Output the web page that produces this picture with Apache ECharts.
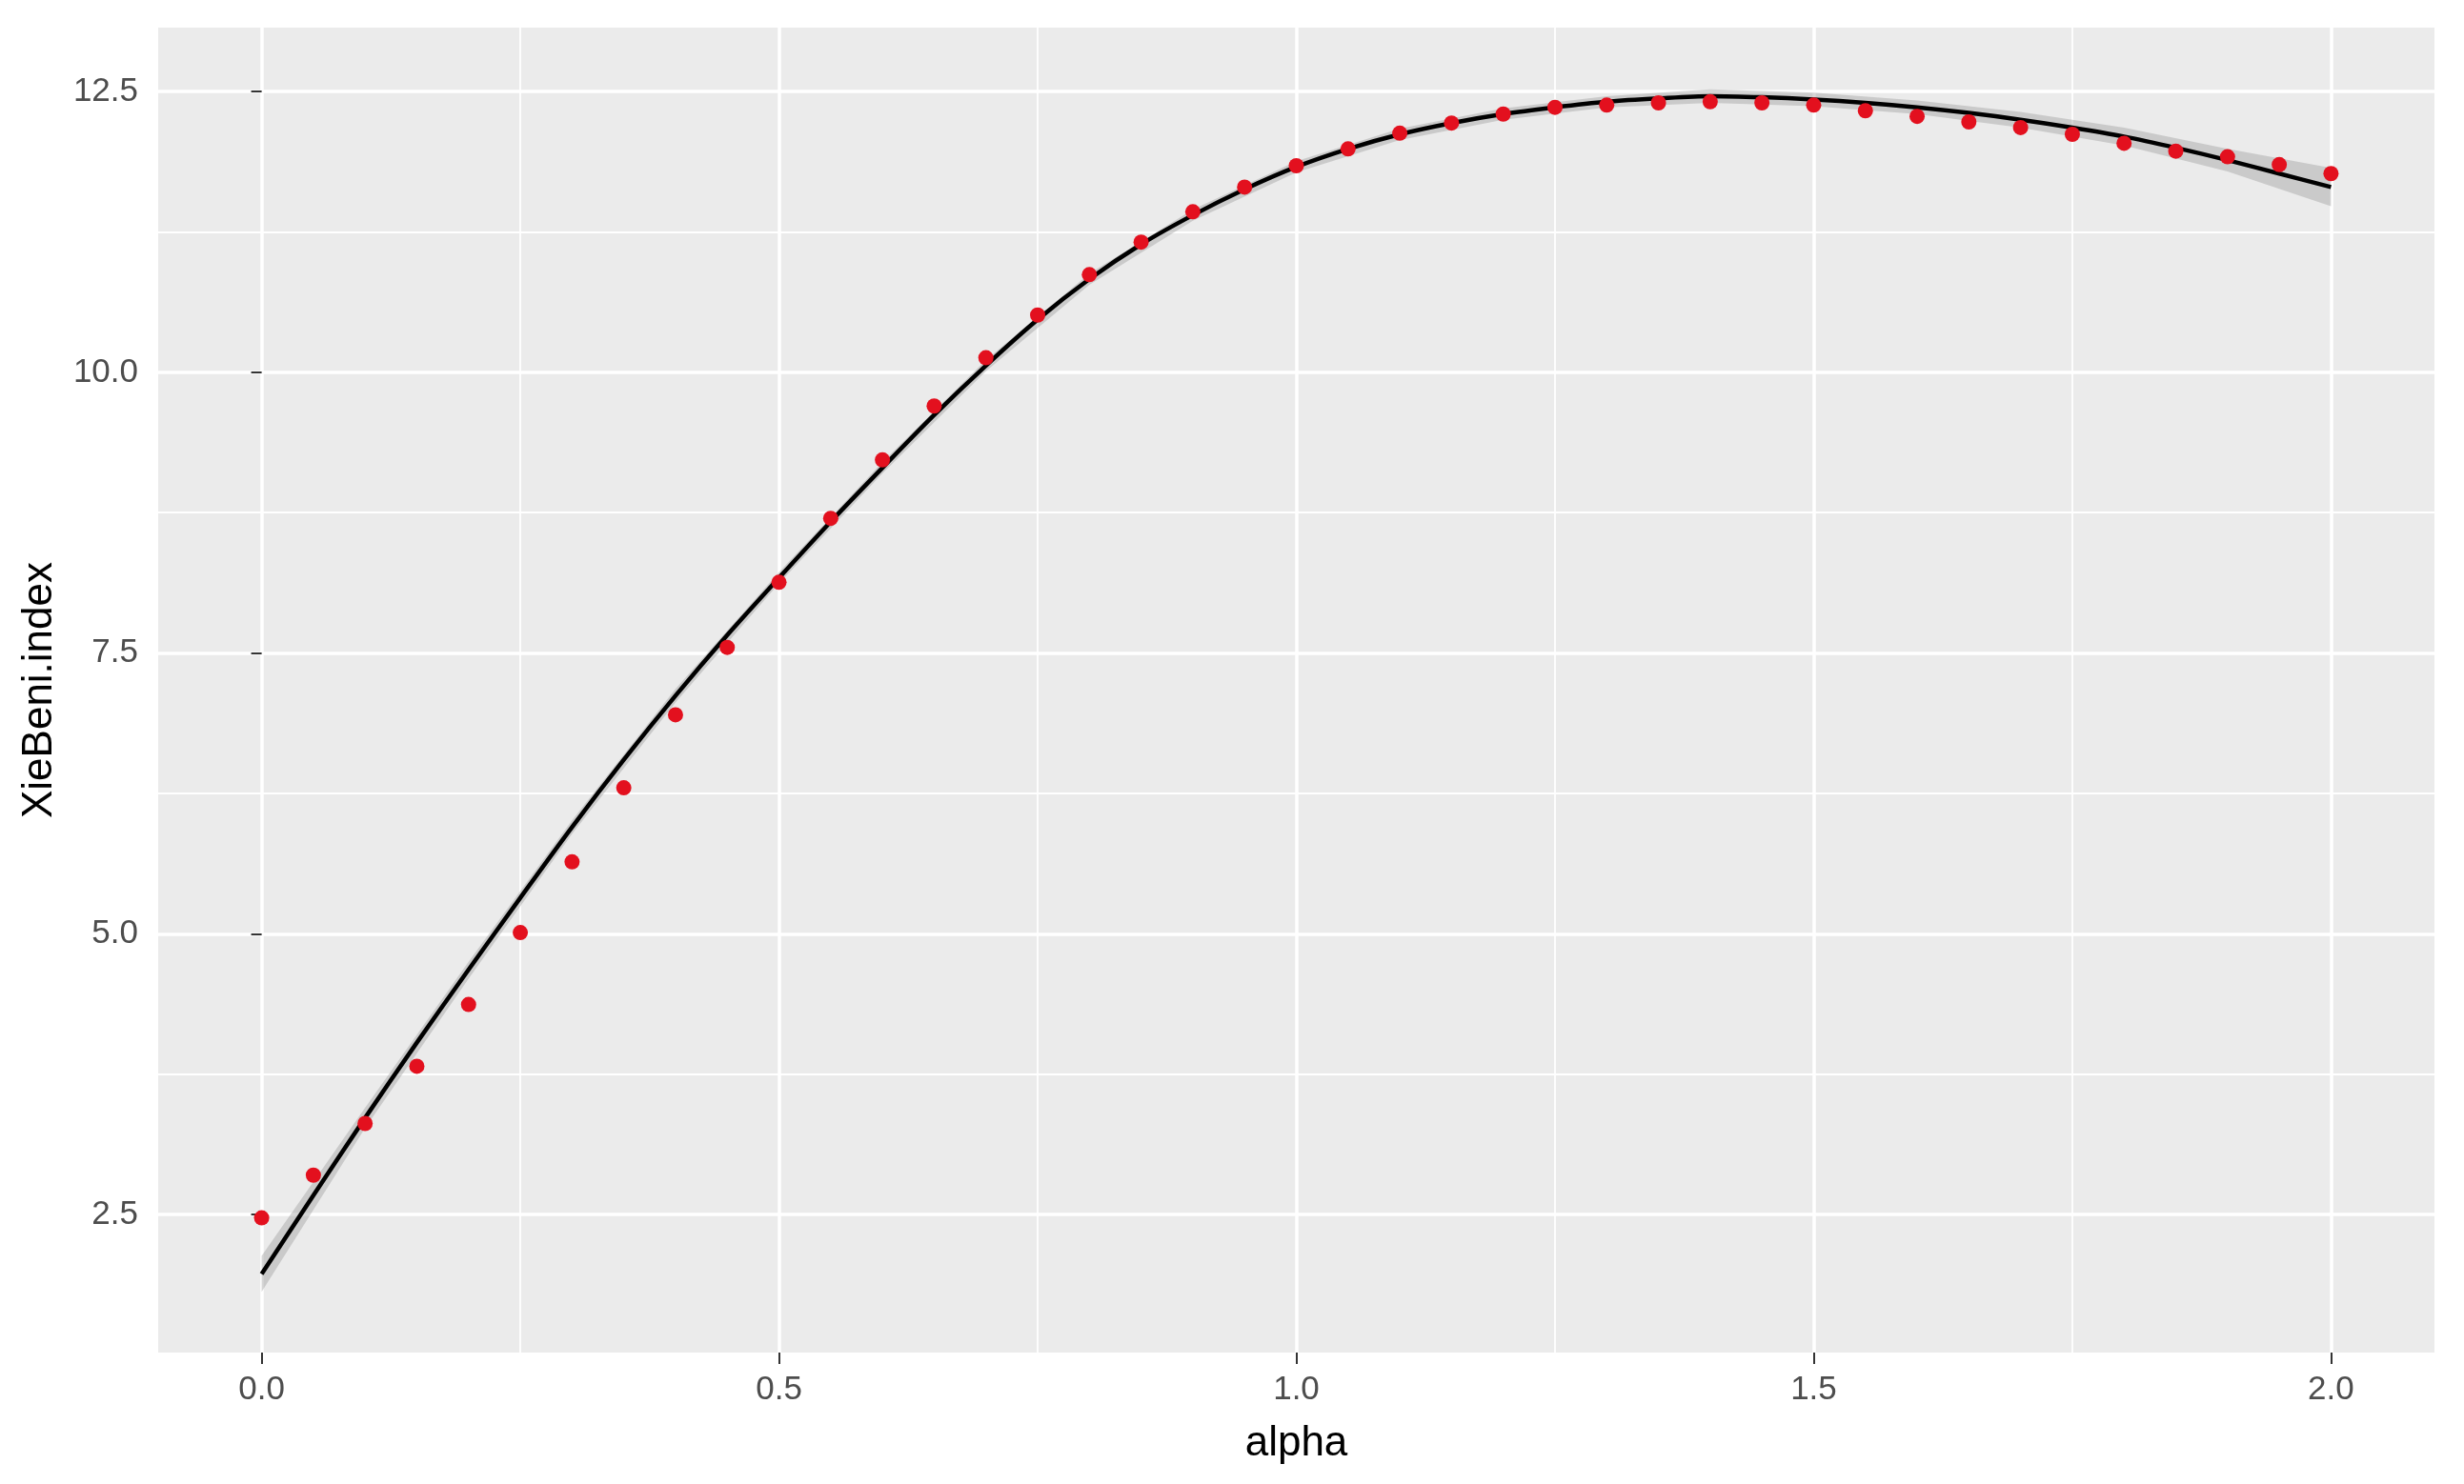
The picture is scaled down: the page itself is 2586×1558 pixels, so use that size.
<!DOCTYPE html>
<html>
<head>
<meta charset="utf-8">
<title>XieBeni.index vs alpha</title>
<script src="https://cdn.jsdelivr.net/npm/echarts@6.0.0/dist/echarts.min.js"></script>
<style>
    html, body { margin: 0; padding: 0; background: #ffffff; }
    #main { width: 2586px; height: 1558px; }
</style>
</head>
<body>
<div id="main"></div>
<script>
// observed points, alpha step 0.05
const alpha = [0, 0.05, 0.1, 0.15, 0.2, 0.25, 0.3, 0.35, 0.4, 0.45, 0.5, 0.55, 0.6, 0.65, 0.7, 0.75, 0.8, 0.85, 0.9, 0.95,
    1, 1.05, 1.1, 1.15, 1.2, 1.25, 1.3, 1.35, 1.4, 1.45, 1.5, 1.55, 1.6, 1.65, 1.7, 1.75, 1.8, 1.85, 1.9, 1.95, 2];
const xieBeni = [2.47, 2.85, 3.31, 3.82, 4.37, 5.01, 5.64, 6.30, 6.95, 7.55, 8.13, 8.70, 9.22, 9.70, 10.13, 10.51, 10.87, 11.16, 11.43, 11.65,
    11.84, 11.99, 12.13, 12.22, 12.30, 12.36, 12.38, 12.40, 12.41, 12.40, 12.38, 12.33, 12.28, 12.23, 12.18, 12.12, 12.04, 11.97, 11.92, 11.85, 11.77];
// smoothed fit
const fitLine = [1.97, 2.67, 3.36, 4.03, 4.68, 5.32, 5.95, 6.55, 7.12, 7.66, 8.17, 8.67, 9.15, 9.62, 10.06, 10.47, 10.83, 11.14, 11.40, 11.63,
    11.83, 11.99, 12.12, 12.22, 12.30, 12.36, 12.41, 12.44, 12.46, 12.45, 12.43, 12.40, 12.36, 12.31, 12.25, 12.18, 12.10, 12.00, 11.89, 11.77, 11.65];

// confidence band, alpha step 0.1
const bandAlpha = [0, 0.1, 0.2, 0.3, 0.4, 0.5, 0.6, 0.7, 0.8, 0.9, 1, 1.1, 1.2, 1.3, 1.4, 1.5, 1.6, 1.7, 1.8, 1.9, 2];
const bandLower = [1.81, 3.27, 4.60, 5.89, 7.06, 8.12, 9.10, 10.01, 10.78, 11.35, 11.78, 12.07, 12.25, 12.36, 12.40, 12.37, 12.30, 12.18, 12.02, 11.79, 11.48];
const bandUpper = [2.13, 3.45, 4.75, 6.01, 7.18, 8.22, 9.20, 10.11, 10.88, 11.45, 11.88, 12.17, 12.35, 12.46, 12.52, 12.49, 12.42, 12.32, 12.18, 11.99, 11.82];

// tick labels
const xTicks = [0, 0.5, 1, 1.5, 2];
const xMinor = [0.25, 0.75, 1.25, 1.75];
const yTicks = [2.5, 5, 7.5, 10, 12.5];
const yMinor = [3.75, 6.25, 8.75, 11.25];

const font = 'Liberation Sans, Arial, sans-serif';

document.addEventListener('DOMContentLoaded', function () {
    const pointData = alpha.map((a, i) => [a, xieBeni[i]]);
    const fitData = alpha.map((a, i) => [a, fitLine[i]]);
    const bandData = bandAlpha.map((a, i) => [a, bandLower[i], bandUpper[i]]);

    // whole ribbon drawn as one polygon from the first item
    function renderBand(params, api) {
        if (params.dataIndexInside !== 0) return;
        const n = params.dataInsideLength;
        const top = [];
        const bottom = [];
        for (let j = 0; j < n; j++) {
            top.push(api.coord([api.value(0, j), api.value(2, j)]));
            bottom.push(api.coord([api.value(0, j), api.value(1, j)]));
        }
        return {
            type: 'polygon',
            shape: { points: top.concat(bottom.reverse()) },
            style: { fill: 'rgba(153,153,153,0.4)' }
        };
    }

    let options = {
        animation: false,
        backgroundColor: '#ffffff',
        grid: {
            left: 166, right: 31, top: 29, bottom: 138,
            show: true,
            backgroundColor: '#EBEBEB',
            borderWidth: 0
        },
        xAxis: [{
            type: 'value',
            min: -0.1, max: 2.1,
            name: 'alpha',
            nameLocation: 'middle',
            nameGap: 74,
            nameTextStyle: { fontFamily: font, fontSize: 44, color: '#000000' },
            axisLine: { show: false },
            axisTick: { show: true, length: 12, customValues: xTicks, lineStyle: { color: '#333333', width: 2 } },
            axisLabel: {
                customValues: xTicks, margin: 22,
                fontFamily: font, fontSize: 35, color: '#4D4D4D',
                formatter: (v) => v.toFixed(1)
            },
            splitLine: { show: true, lineStyle: { color: '#ffffff', width: 3.5 } }
        }, {
            type: 'value',
            min: -0.1, max: 2.1,
            position: 'bottom',
            axisLine: { show: false },
            axisTick: { show: false, customValues: xMinor },
            axisLabel: { show: false, customValues: xMinor },
            splitLine: { show: true, lineStyle: { color: '#ffffff', width: 1.8 } }
        }],
        yAxis: [{
            type: 'value',
            min: 1.27, max: 13.07,
            name: 'XieBeni.index',
            nameLocation: 'middle',
            nameGap: 102,
            nameTextStyle: { fontFamily: font, fontSize: 44, color: '#000000' },
            axisLine: { show: false },
            axisTick: { show: true, length: 11, customValues: yTicks, lineStyle: { color: '#333333', width: 2 } },
            axisLabel: {
                customValues: yTicks, margin: 21,
                fontFamily: font, fontSize: 35, color: '#4D4D4D',
                formatter: (v) => v.toFixed(1)
            },
            splitLine: { show: true, lineStyle: { color: '#ffffff', width: 3.5 } }
        }, {
            type: 'value',
            min: 1.27, max: 13.07,
            position: 'left',
            axisLine: { show: false },
            axisTick: { show: false, customValues: yMinor },
            axisLabel: { show: false, customValues: yMinor },
            splitLine: { show: true, lineStyle: { color: '#ffffff', width: 1.8 } }
        }],
        series: [{
            name: 'band',
            type: 'custom',
            data: bandData,
            renderItem: renderBand,
            encode: { x: 0, y: [1, 2] },
            clip: true,
            silent: true,
            z: 2
        }, {
            name: 'fit',
            type: 'line',
            data: fitData,
            smooth: 0.3,
            symbol: 'none',
            silent: true,
            lineStyle: { color: '#000000', width: 4.5 },
            z: 3
        }, {
            name: 'XieBeni.index',
            type: 'scatter',
            data: pointData,
            symbolSize: 16,
            itemStyle: { color: '#E3101E', opacity: 1 },
            z: 4
        }]
    };

    let myChart = echarts.init(document.getElementById('main'));
    myChart.setOption(options);
});
</script>
</body>
</html>
